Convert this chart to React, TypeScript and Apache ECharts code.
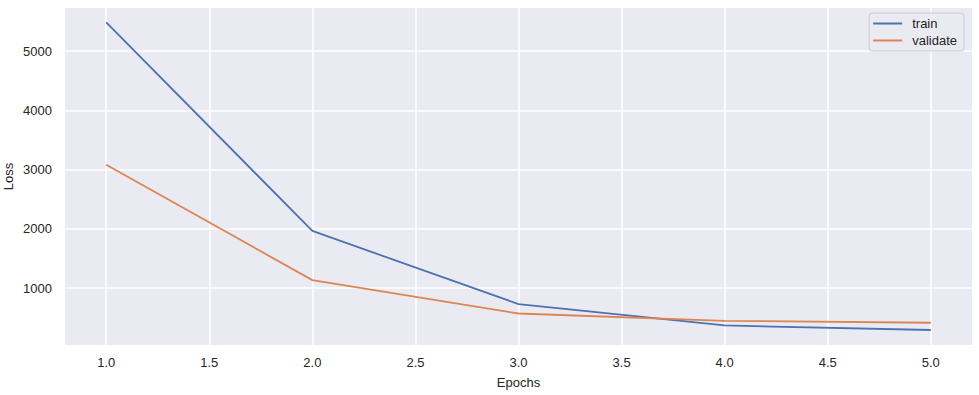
import React, { useEffect, useRef } from "react";
import * as echarts from "echarts";

const epochs = [1, 2, 3, 4, 5];
const trainLoss = [5488, 1966, 731, 370, 293];
const validateLoss = [3084, 1135, 572, 449, 416];
const xTicks = [1.0, 1.5, 2.0, 2.5, 3.0, 3.5, 4.0, 4.5, 5.0];
const yTicks = [1000, 2000, 3000, 4000, 5000];

export default function App() {
  const ref = useRef<HTMLDivElement>(null);
  useEffect(() => {
    document.body.style.margin = "0";
    const chart = echarts.init(ref.current!, null, { renderer: "svg" });
    const font = "'Liberation Sans', Arial, sans-serif";
    chart.setOption({
      animation: false,
      textStyle: { fontFamily: font },
      grid: {
        left: 65,
        right: 7,
        top: 8,
        bottom: 50,
        outerBoundsMode: "none",
        containLabel: false,
        show: true,
        backgroundColor: "#EAEAF2",
        borderWidth: 0,
      },
      legend: {
        orient: "vertical",
        right: 15,
        top: 13,
        backgroundColor: "rgba(234,234,242,0.8)",
        borderColor: "#cccccc",
        borderWidth: 1,
        borderRadius: 3,
        padding: [4, 7, 4, 4],
        itemGap: 4,
        itemWidth: 29,
        itemHeight: 2,
        icon: "rect",
        textStyle: { fontSize: 13, color: "#262626", fontFamily: font, padding: [0, 0, 0, 5] },
        data: ["train", "validate"],
      },
      xAxis: {
        type: "value",
        min: 0.8,
        max: 5.2,
        name: "Epochs",
        nameLocation: "middle",
        nameGap: 31,
        nameMoveOverlap: false,
        nameTextStyle: { fontSize: 13, color: "#262626", fontFamily: font },
        axisLine: { show: false },
        axisTick: { show: false, customValues: xTicks },
        axisLabel: {
          customValues: xTicks,
          fontSize: 13,
          color: "#262626",
          margin: 11,
          fontFamily: font,
          formatter: (v: number) => v.toFixed(1),
        },
        splitLine: { show: true, lineStyle: { color: "#ffffff", width: 1.5 } },
      },
      yAxis: {
        type: "value",
        min: 40,
        max: 5730,
        name: "Loss",
        nameLocation: "middle",
        nameGap: 50,
        nameMoveOverlap: false,
        nameRotate: 90,
        nameTextStyle: { fontSize: 13, color: "#262626", fontFamily: font },
        axisLine: { show: false },
        axisTick: { show: false, customValues: yTicks },
        axisLabel: {
          customValues: yTicks,
          fontSize: 13,
          color: "#262626",
          margin: 13,
          fontFamily: font,
          formatter: (v: number) => String(v),
        },
        splitLine: { show: true, lineStyle: { color: "#ffffff", width: 1.5 } },
      },
      series: [
        {
          name: "train",
          type: "line",
          data: epochs.map((e, i) => [e, trainLoss[i]]),
          symbol: "none",
          lineStyle: { color: "#4C72B0", width: 1.8 },
          itemStyle: { color: "#4C72B0" },
        },
        {
          name: "validate",
          type: "line",
          data: epochs.map((e, i) => [e, validateLoss[i]]),
          symbol: "none",
          lineStyle: { color: "#DD8452", width: 1.8 },
          itemStyle: { color: "#DD8452" },
        },
      ],
    });
    return () => chart.dispose();
  }, []);
  return <div ref={ref} style={{ width: 979, height: 395 }} />;
}
